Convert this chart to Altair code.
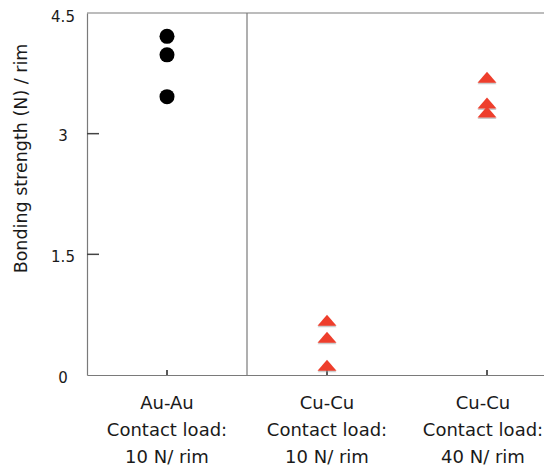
import altair as alt
import pandas as pd

NB = "\u00a0"
categories = [
    "Au-Au|Contact load:|10 N/ rim" + NB * 3,
    "Cu-Cu|Contact load:|10 N/ rim",
    "Cu-Cu|Contact load:|40 N/ rim",
]
au_values = [4.21, 3.98, 3.46]
cu10_values = [0.68, 0.47, 0.12]
cu40_values = [3.70, 3.38, 3.27]
y_ticks = [0, 1.5, 3, 4.5]
inner_y_ticks = [1.5, 3]

au_df = pd.DataFrame({"cat": categories[0], "value": au_values})
cu_df = pd.DataFrame({
    "cat": [categories[1]] * len(cu10_values) + [categories[2]] * len(cu40_values),
    "value": cu10_values + cu40_values,
})
cat_df = pd.DataFrame({"cat": categories})
sep_df = pd.DataFrame({"cat": [categories[0]]})
ytick_df = pd.DataFrame({"value": inner_y_ticks})

W, H = 457, 362
RANGE = 480
xscale = alt.Scale(domain=categories, range=[0, RANGE], paddingInner=0, paddingOuter=0)
yscale = alt.Scale(domain=[0, 4.5], nice=False, zero=True)

x_axis = alt.Axis(
    title=None, labelExpr="split(datum.label, '|')",
    labelAngle=0, labelAlign="center", labelBaseline="top", labelFontSize=18,
    labelLineHeight=27, labelPadding=19, labelOverlap=False, labelBound=False,
    labelOffset={"condition": {"test": "indexof(datum.label, '40 N') >= 0", "value": -4}, "value": 0},
)
y_axis = alt.Axis(
    values=y_ticks, labelExpr="format(datum.value, '.1~f')", title="Bonding strength (N) / rim",
    labelFontSize=15, labelPadding=24.5, labelAlign="center", labelBaseline="middle",
    labelOffset={"condition": {"test": "datum.value == 4.5", "value": 3}, "value": 2},
    titleFontSize=17.5, titleX=-66, titleY=145, titleAlign="center", titleBaseline="middle",
    titleAngle=270,
)

tri = "M-1,0.58L0,-0.58L1,0.58Z"

circles = alt.Chart(au_df).mark_point(shape="circle", filled=True, size=225, color="black", opacity=1).encode(
    x=alt.X("cat:N", scale=xscale, axis=x_axis, sort=categories),
    y=alt.Y("value:Q", scale=yscale, axis=y_axis),
)
shadow = alt.Chart(cu_df).mark_point(shape=tri, filled=True, size=361, color="#9a9a9a", opacity=0.5, yOffset=1.5).encode(
    x=alt.X("cat:N", scale=xscale, axis=x_axis, sort=categories),
    y=alt.Y("value:Q", scale=yscale, axis=y_axis),
)
triangles = alt.Chart(cu_df).mark_point(shape=tri, filled=True, size=361, color="#ee3e2c", opacity=1).encode(
    x=alt.X("cat:N", scale=xscale, axis=x_axis, sort=categories),
    y=alt.Y("value:Q", scale=yscale, axis=y_axis),
)
xticks = alt.Chart(cat_df).mark_rule(color="#222222", strokeWidth=1.5).encode(
    x=alt.X("cat:N", scale=xscale, axis=x_axis, sort=categories),
    y=alt.value(H - 5), y2=alt.value(H),
)
yticks = alt.Chart(ytick_df).mark_rule(color="#444444", strokeWidth=1.5).encode(
    y=alt.Y("value:Q", scale=yscale, axis=y_axis),
    x=alt.value(0), x2=alt.value(12),
)
separator = alt.Chart(sep_df).mark_rule(color="#7a7a7a", strokeWidth=1.2).encode(
    x=alt.X("cat:N", scale=xscale, axis=x_axis, sort=categories, bandPosition=1),
    y=alt.value(0), y2=alt.value(H),
)
topline = alt.Chart(sep_df).mark_rule(color="#7a7a7a", strokeWidth=1.2).encode(
    x=alt.value(0), x2=alt.value(RANGE), y=alt.value(0),
)

chart = alt.layer(circles, topline, separator, xticks, yticks, shadow, triangles).properties(
    width=W, height=H,
    autosize=alt.AutoSizeParams(type="none"),
    padding={"left": 79, "top": 5, "right": 0, "bottom": 91},
).configure_view(
    stroke=None
).configure_axis(
    grid=False, ticks=False, domainColor="#7a7a7a", domainWidth=1.2,
    labelColor="#1a1a1a", labelFont="DejaVu Sans",
    titleFont="DejaVu Sans", titleColor="#1a1a1a", titleFontWeight="normal",
)

chart.save("out.html", embed_options={"renderer": "svg", "actions": False})
